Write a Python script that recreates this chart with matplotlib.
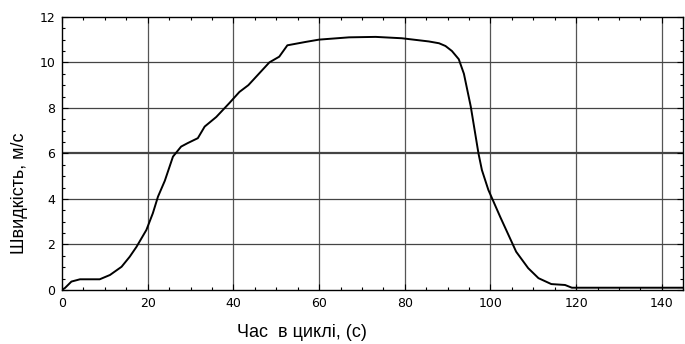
import matplotlib.pyplot as plt
from matplotlib.ticker import MultipleLocator

# time in cycle (s) and speed (m/s)
time_s = [0.0, 0.7, 2.2, 4.2, 8.8, 11.2, 13.9, 15.8, 17.4, 19.7, 21.2, 22.4,
          24.0, 25.9, 27.8, 29.3, 31.7, 33.3, 36.0, 39.0, 41.4, 43.5, 48.4,
          50.7, 52.6, 56.9, 60.0, 67.0, 73.2, 79.3, 85.6, 88.0, 89.5, 91.0,
          92.6, 93.8, 95.4, 97.2, 98.0, 99.5, 102.3, 106.0, 108.8, 111.2,
          114.2, 117.4, 119.0, 145.0]
speed = [0.0, 0.09, 0.37, 0.47, 0.47, 0.66, 1.02, 1.46, 1.9, 2.64, 3.37, 4.1,
         4.8, 5.86, 6.3, 6.45, 6.67, 7.18, 7.6, 8.2, 8.7, 9.0, 10.0,
         10.25, 10.75, 10.9, 11.0, 11.1, 11.12, 11.06, 10.92, 10.84, 10.72,
         10.5, 10.14, 9.5, 8.06, 6.0, 5.27, 4.4, 3.2, 1.68, 0.96, 0.52,
         0.26, 0.22, 0.1, 0.1]

x_ticks = [0, 20, 40, 60, 80, 100, 120, 140]
y_ticks = [0, 2, 4, 6, 8, 10, 12]


def plot():
    plt.rcParams['font.family'] = ['Liberation Sans', 'DejaVu Sans']
    fig = plt.figure(figsize=(6.85, 3.44), dpi=100)
    ax = fig.add_axes([0.0905, 0.157, 0.907, 0.794])

    for x in x_ticks[1:]:
        ax.axvline(x, color='#555555', lw=0.9, zorder=1)
    for y in y_ticks[1:-1]:
        ax.axhline(y, color='#444444', lw=1.6 if y == 6 else 0.9, zorder=1)

    ax.plot(time_s, speed, color='black', lw=1.4, zorder=3)

    ax.set_xlim(0, 145)
    ax.set_ylim(0, 12)
    ax.set_xticks(x_ticks)
    ax.set_yticks(y_ticks)
    ax.xaxis.set_minor_locator(MultipleLocator(5))
    ax.yaxis.set_minor_locator(MultipleLocator(0.5))
    ax.tick_params(which='both', direction='in', top=True, right=True,
                   labelsize=9, width=0.8)
    ax.tick_params(which='major', length=4, pad=5)
    ax.tick_params(which='minor', length=2.5)
    for lbl in ax.get_xticklabels() + ax.get_yticklabels():
        lbl.set_family('DejaVu Sans')
    for s in ax.spines.values():
        s.set_linewidth(1.0)

    ax.set_xlabel('Час  в циклі, (с)', fontsize=13, va='center')
    ax.set_ylabel('Швидкість, м/с', fontsize=13, va='center')
    ax.xaxis.set_label_coords(0.386, -0.157)
    ax.yaxis.set_label_coords(-0.068, 0.355)

    fig.savefig('out.png', dpi=100)


if __name__ == "__main__":
    plot()
